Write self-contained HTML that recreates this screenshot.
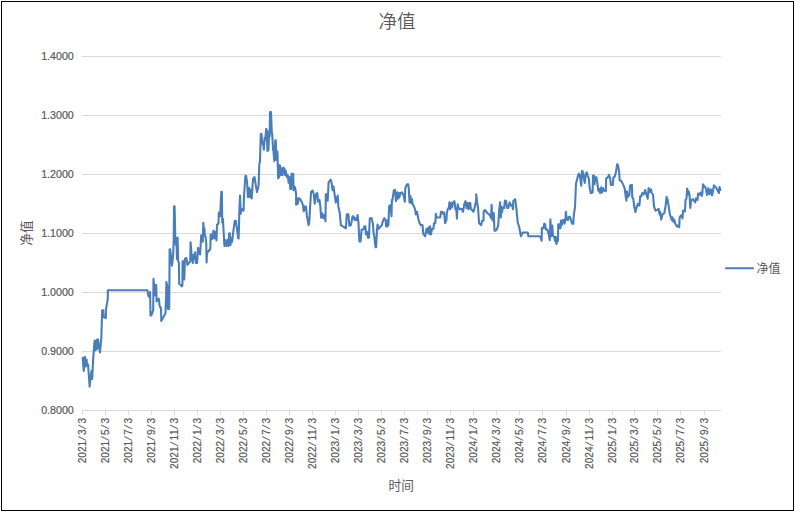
<!DOCTYPE html>
<html lang="zh-CN"><head><meta charset="utf-8"><title>净值</title>
<style>
html,body{margin:0;padding:0;background:#fff;}
body{width:795px;height:512px;overflow:hidden;}
svg{display:block;}
text{font-family:"Liberation Sans","Noto Sans CJK SC",sans-serif;fill:#595959;}
.num{stroke:#595959;stroke-width:0.22px;}
.cjk{font-family:"Liberation Sans","Noto Sans CJK SC",sans-serif;}
</style></head><body>
<svg width="795" height="512" viewBox="0 0 795 512">
<rect x="0" y="0" width="795" height="512" fill="#ffffff"/>
<rect x="1.5" y="1.5" width="792" height="509" fill="none" stroke="#000000" stroke-width="1" shape-rendering="crispEdges"/>
<line x1="82" y1="56.5" x2="721" y2="56.5" stroke="#d9d9d9" stroke-width="1" shape-rendering="crispEdges"/>
<line x1="82" y1="115.5" x2="721" y2="115.5" stroke="#d9d9d9" stroke-width="1" shape-rendering="crispEdges"/>
<line x1="82" y1="174.5" x2="721" y2="174.5" stroke="#d9d9d9" stroke-width="1" shape-rendering="crispEdges"/>
<line x1="82" y1="233.5" x2="721" y2="233.5" stroke="#d9d9d9" stroke-width="1" shape-rendering="crispEdges"/>
<line x1="82" y1="292.5" x2="721" y2="292.5" stroke="#d9d9d9" stroke-width="1" shape-rendering="crispEdges"/>
<line x1="82" y1="351.5" x2="721" y2="351.5" stroke="#d9d9d9" stroke-width="1" shape-rendering="crispEdges"/>
<line x1="82" y1="410.5" x2="721" y2="410.5" stroke="#d9d9d9" stroke-width="1" shape-rendering="crispEdges"/>
<line x1="82.5" y1="410" x2="82.5" y2="415" stroke="#d9d9d9" stroke-width="1" shape-rendering="crispEdges"/>
<line x1="105.5" y1="410" x2="105.5" y2="415" stroke="#d9d9d9" stroke-width="1" shape-rendering="crispEdges"/>
<line x1="128.5" y1="410" x2="128.5" y2="415" stroke="#d9d9d9" stroke-width="1" shape-rendering="crispEdges"/>
<line x1="151.5" y1="410" x2="151.5" y2="415" stroke="#d9d9d9" stroke-width="1" shape-rendering="crispEdges"/>
<line x1="174.5" y1="410" x2="174.5" y2="415" stroke="#d9d9d9" stroke-width="1" shape-rendering="crispEdges"/>
<line x1="197.5" y1="410" x2="197.5" y2="415" stroke="#d9d9d9" stroke-width="1" shape-rendering="crispEdges"/>
<line x1="220.5" y1="410" x2="220.5" y2="415" stroke="#d9d9d9" stroke-width="1" shape-rendering="crispEdges"/>
<line x1="243.5" y1="410" x2="243.5" y2="415" stroke="#d9d9d9" stroke-width="1" shape-rendering="crispEdges"/>
<line x1="266.5" y1="410" x2="266.5" y2="415" stroke="#d9d9d9" stroke-width="1" shape-rendering="crispEdges"/>
<line x1="289.5" y1="410" x2="289.5" y2="415" stroke="#d9d9d9" stroke-width="1" shape-rendering="crispEdges"/>
<line x1="312.5" y1="410" x2="312.5" y2="415" stroke="#d9d9d9" stroke-width="1" shape-rendering="crispEdges"/>
<line x1="335.5" y1="410" x2="335.5" y2="415" stroke="#d9d9d9" stroke-width="1" shape-rendering="crispEdges"/>
<line x1="358.5" y1="410" x2="358.5" y2="415" stroke="#d9d9d9" stroke-width="1" shape-rendering="crispEdges"/>
<line x1="381.5" y1="410" x2="381.5" y2="415" stroke="#d9d9d9" stroke-width="1" shape-rendering="crispEdges"/>
<line x1="404.5" y1="410" x2="404.5" y2="415" stroke="#d9d9d9" stroke-width="1" shape-rendering="crispEdges"/>
<line x1="427.5" y1="410" x2="427.5" y2="415" stroke="#d9d9d9" stroke-width="1" shape-rendering="crispEdges"/>
<line x1="450.5" y1="410" x2="450.5" y2="415" stroke="#d9d9d9" stroke-width="1" shape-rendering="crispEdges"/>
<line x1="473.5" y1="410" x2="473.5" y2="415" stroke="#d9d9d9" stroke-width="1" shape-rendering="crispEdges"/>
<line x1="496.5" y1="410" x2="496.5" y2="415" stroke="#d9d9d9" stroke-width="1" shape-rendering="crispEdges"/>
<line x1="519.5" y1="410" x2="519.5" y2="415" stroke="#d9d9d9" stroke-width="1" shape-rendering="crispEdges"/>
<line x1="542.5" y1="410" x2="542.5" y2="415" stroke="#d9d9d9" stroke-width="1" shape-rendering="crispEdges"/>
<line x1="566.5" y1="410" x2="566.5" y2="415" stroke="#d9d9d9" stroke-width="1" shape-rendering="crispEdges"/>
<line x1="589.5" y1="410" x2="589.5" y2="415" stroke="#d9d9d9" stroke-width="1" shape-rendering="crispEdges"/>
<line x1="612.5" y1="410" x2="612.5" y2="415" stroke="#d9d9d9" stroke-width="1" shape-rendering="crispEdges"/>
<line x1="634.5" y1="410" x2="634.5" y2="415" stroke="#d9d9d9" stroke-width="1" shape-rendering="crispEdges"/>
<line x1="657.5" y1="410" x2="657.5" y2="415" stroke="#d9d9d9" stroke-width="1" shape-rendering="crispEdges"/>
<line x1="680.5" y1="410" x2="680.5" y2="415" stroke="#d9d9d9" stroke-width="1" shape-rendering="crispEdges"/>
<line x1="704.5" y1="410" x2="704.5" y2="415" stroke="#d9d9d9" stroke-width="1" shape-rendering="crispEdges"/>
<text class="num" transform="translate(85.80,417.9) rotate(-90) scale(0.876,1)" font-size="11.5" x="-51.83 -45.43 -39.04 -32.65 -25.97 -19.52 -12.84 -6.39" rotate="0 0 0 0 14 0 14 0">2021/3/3</text>
<text class="num" transform="translate(108.80,417.9) rotate(-90) scale(0.876,1)" font-size="11.5" x="-51.83 -45.43 -39.04 -32.65 -25.97 -19.52 -12.84 -6.39" rotate="0 0 0 0 14 0 14 0">2021/5/3</text>
<text class="num" transform="translate(131.80,417.9) rotate(-90) scale(0.876,1)" font-size="11.5" x="-51.83 -45.43 -39.04 -32.65 -25.97 -19.52 -12.84 -6.39" rotate="0 0 0 0 14 0 14 0">2021/7/3</text>
<text class="num" transform="translate(154.80,417.9) rotate(-90) scale(0.876,1)" font-size="11.5" x="-51.83 -45.43 -39.04 -32.65 -25.97 -19.52 -12.84 -6.39" rotate="0 0 0 0 14 0 14 0">2021/9/3</text>
<text class="num" transform="translate(177.80,417.9) rotate(-90) scale(0.876,1)" font-size="11.5" x="-58.22 -51.83 -45.43 -39.04 -32.36 -25.91 -19.52 -12.84 -6.39" rotate="0 0 0 0 14 0 0 14 0">2021/11/3</text>
<text class="num" transform="translate(200.80,417.9) rotate(-90) scale(0.876,1)" font-size="11.5" x="-51.83 -45.43 -39.04 -32.65 -25.97 -19.52 -12.84 -6.39" rotate="0 0 0 0 14 0 14 0">2022/1/3</text>
<text class="num" transform="translate(223.80,417.9) rotate(-90) scale(0.876,1)" font-size="11.5" x="-51.83 -45.43 -39.04 -32.65 -25.97 -19.52 -12.84 -6.39" rotate="0 0 0 0 14 0 14 0">2022/3/3</text>
<text class="num" transform="translate(246.80,417.9) rotate(-90) scale(0.876,1)" font-size="11.5" x="-51.83 -45.43 -39.04 -32.65 -25.97 -19.52 -12.84 -6.39" rotate="0 0 0 0 14 0 14 0">2022/5/3</text>
<text class="num" transform="translate(269.80,417.9) rotate(-90) scale(0.876,1)" font-size="11.5" x="-51.83 -45.43 -39.04 -32.65 -25.97 -19.52 -12.84 -6.39" rotate="0 0 0 0 14 0 14 0">2022/7/3</text>
<text class="num" transform="translate(292.80,417.9) rotate(-90) scale(0.876,1)" font-size="11.5" x="-51.83 -45.43 -39.04 -32.65 -25.97 -19.52 -12.84 -6.39" rotate="0 0 0 0 14 0 14 0">2022/9/3</text>
<text class="num" transform="translate(315.80,417.9) rotate(-90) scale(0.876,1)" font-size="11.5" x="-58.22 -51.83 -45.43 -39.04 -32.36 -25.91 -19.52 -12.84 -6.39" rotate="0 0 0 0 14 0 0 14 0">2022/11/3</text>
<text class="num" transform="translate(338.80,417.9) rotate(-90) scale(0.876,1)" font-size="11.5" x="-51.83 -45.43 -39.04 -32.65 -25.97 -19.52 -12.84 -6.39" rotate="0 0 0 0 14 0 14 0">2023/1/3</text>
<text class="num" transform="translate(361.80,417.9) rotate(-90) scale(0.876,1)" font-size="11.5" x="-51.83 -45.43 -39.04 -32.65 -25.97 -19.52 -12.84 -6.39" rotate="0 0 0 0 14 0 14 0">2023/3/3</text>
<text class="num" transform="translate(384.80,417.9) rotate(-90) scale(0.876,1)" font-size="11.5" x="-51.83 -45.43 -39.04 -32.65 -25.97 -19.52 -12.84 -6.39" rotate="0 0 0 0 14 0 14 0">2023/5/3</text>
<text class="num" transform="translate(407.80,417.9) rotate(-90) scale(0.876,1)" font-size="11.5" x="-51.83 -45.43 -39.04 -32.65 -25.97 -19.52 -12.84 -6.39" rotate="0 0 0 0 14 0 14 0">2023/7/3</text>
<text class="num" transform="translate(430.80,417.9) rotate(-90) scale(0.876,1)" font-size="11.5" x="-51.83 -45.43 -39.04 -32.65 -25.97 -19.52 -12.84 -6.39" rotate="0 0 0 0 14 0 14 0">2023/9/3</text>
<text class="num" transform="translate(453.80,417.9) rotate(-90) scale(0.876,1)" font-size="11.5" x="-58.22 -51.83 -45.43 -39.04 -32.36 -25.91 -19.52 -12.84 -6.39" rotate="0 0 0 0 14 0 0 14 0">2023/11/3</text>
<text class="num" transform="translate(476.80,417.9) rotate(-90) scale(0.876,1)" font-size="11.5" x="-51.83 -45.43 -39.04 -32.65 -25.97 -19.52 -12.84 -6.39" rotate="0 0 0 0 14 0 14 0">2024/1/3</text>
<text class="num" transform="translate(499.80,417.9) rotate(-90) scale(0.876,1)" font-size="11.5" x="-51.83 -45.43 -39.04 -32.65 -25.97 -19.52 -12.84 -6.39" rotate="0 0 0 0 14 0 14 0">2024/3/3</text>
<text class="num" transform="translate(522.80,417.9) rotate(-90) scale(0.876,1)" font-size="11.5" x="-51.83 -45.43 -39.04 -32.65 -25.97 -19.52 -12.84 -6.39" rotate="0 0 0 0 14 0 14 0">2024/5/3</text>
<text class="num" transform="translate(545.80,417.9) rotate(-90) scale(0.876,1)" font-size="11.5" x="-51.83 -45.43 -39.04 -32.65 -25.97 -19.52 -12.84 -6.39" rotate="0 0 0 0 14 0 14 0">2024/7/3</text>
<text class="num" transform="translate(569.80,417.9) rotate(-90) scale(0.876,1)" font-size="11.5" x="-51.83 -45.43 -39.04 -32.65 -25.97 -19.52 -12.84 -6.39" rotate="0 0 0 0 14 0 14 0">2024/9/3</text>
<text class="num" transform="translate(592.80,417.9) rotate(-90) scale(0.876,1)" font-size="11.5" x="-58.22 -51.83 -45.43 -39.04 -32.36 -25.91 -19.52 -12.84 -6.39" rotate="0 0 0 0 14 0 0 14 0">2024/11/3</text>
<text class="num" transform="translate(615.80,417.9) rotate(-90) scale(0.876,1)" font-size="11.5" x="-51.83 -45.43 -39.04 -32.65 -25.97 -19.52 -12.84 -6.39" rotate="0 0 0 0 14 0 14 0">2025/1/3</text>
<text class="num" transform="translate(637.80,417.9) rotate(-90) scale(0.876,1)" font-size="11.5" x="-51.83 -45.43 -39.04 -32.65 -25.97 -19.52 -12.84 -6.39" rotate="0 0 0 0 14 0 14 0">2025/3/3</text>
<text class="num" transform="translate(660.80,417.9) rotate(-90) scale(0.876,1)" font-size="11.5" x="-51.83 -45.43 -39.04 -32.65 -25.97 -19.52 -12.84 -6.39" rotate="0 0 0 0 14 0 14 0">2025/5/3</text>
<text class="num" transform="translate(683.80,417.9) rotate(-90) scale(0.876,1)" font-size="11.5" x="-51.83 -45.43 -39.04 -32.65 -25.97 -19.52 -12.84 -6.39" rotate="0 0 0 0 14 0 14 0">2025/7/3</text>
<text class="num" transform="translate(707.80,417.9) rotate(-90) scale(0.876,1)" font-size="11.5" x="-51.83 -45.43 -39.04 -32.65 -25.97 -19.52 -12.84 -6.39" rotate="0 0 0 0 14 0 14 0">2025/9/3</text>
<text class="num" x="73.8" y="59.7" text-anchor="end" font-size="11.5" textLength="32.6" lengthAdjust="spacingAndGlyphs">1.4000</text>
<text class="num" x="73.8" y="118.7" text-anchor="end" font-size="11.5" textLength="32.6" lengthAdjust="spacingAndGlyphs">1.3000</text>
<text class="num" x="73.8" y="177.7" text-anchor="end" font-size="11.5" textLength="32.6" lengthAdjust="spacingAndGlyphs">1.2000</text>
<text class="num" x="73.8" y="236.7" text-anchor="end" font-size="11.5" textLength="32.6" lengthAdjust="spacingAndGlyphs">1.1000</text>
<text class="num" x="73.8" y="295.7" text-anchor="end" font-size="11.5" textLength="32.6" lengthAdjust="spacingAndGlyphs">1.0000</text>
<text class="num" x="73.8" y="354.7" text-anchor="end" font-size="11.5" textLength="32.6" lengthAdjust="spacingAndGlyphs">0.9000</text>
<text class="num" x="73.8" y="413.7" text-anchor="end" font-size="11.5" textLength="32.6" lengthAdjust="spacingAndGlyphs">0.8000</text>
<text class="cjk" x="397" y="27.5" text-anchor="middle" font-size="18.6" font-weight="350">净值</text>
<text class="cjk" x="401.2" y="489.6" text-anchor="middle" font-size="12.7">时间</text>
<text class="cjk" transform="translate(31.3,233.1) rotate(-90)" text-anchor="middle" font-size="12.7">净值</text>
<line x1="726" y1="268.3" x2="753" y2="268.3" stroke="#4a7ebb" stroke-width="2" stroke-linecap="round"/>
<text class="cjk" x="756.5" y="272.6" font-size="12">净值</text>
<polyline fill="none" stroke="#4a7ebb" stroke-width="2.1" stroke-linejoin="round" stroke-linecap="round" points="82.7,357.7 83.7,370.9 84.9,356.7 85.8,366.5 86.6,359.6 87.1,365.8 88.1,364.6 89.6,386.6 91.5,370.9 92.2,379 93.1,360.2 94.6,340.7 95.6,350.1 96.5,340 97.1,348.9 97.9,339.4 98.8,345.1 100,352.4 101.3,338 102.2,310.3 103.2,310.3 103.8,317.2 105.9,318 105.9,309.6 107.8,298.9 107.8,290.2 147.4,290.2 148.4,295.8 149.4,297 150.1,292 150.5,315.5 151.3,315.5 153.2,310.3 153.5,278.8 155,295.2 155.4,285.1 156.2,285.1 156.6,301.4 157.9,298.9 158.9,298.9 159.5,305.2 160.4,307.7 161,307.7 161.3,320.9 165.4,313.4 166,300.2 166.4,282 167.3,286.4 167.9,309 169.2,309 169.5,270 169.6,249.2 170.1,249.2 170.7,253.6 171.9,265.6 172.6,261.2 173.2,254.2 173.8,236 174,206.2 174.6,206.2 175.1,228.8 175.3,238.9 175.7,244.8 176.4,238.5 177,259.3 177.6,237.6 178.2,261.2 178.9,263 179.2,283.8 180.8,285 181.6,286.3 182.4,285.7 182.6,261.2 183.6,261.2 184.3,279.4 184.9,258.6 186.4,258 187.4,264.9 188.9,263 190.2,261.2 190.6,242.3 191.4,252.4 192.7,263 193.7,254.9 194.6,258.6 195.2,252.4 195.8,263 197.1,263 198.1,247.9 199,252.4 200.1,254.3 201.2,235.4 202.0,236 202.8,241.6 203.3,222.8 203.7,227.5 204.4,228.2 204.8,235 205.5,236.5 206.2,242 206.6,262.4 207,253 210.3,249 210.7,234.5 211.6,234.5 212.2,238.9 213.5,230.5 214.4,238.5 215.4,232 216.5,240.4 217.0,224.6 218.5,223.8 218.8,212.5 219.7,212.5 220.1,216.3 221.3,191.7 221.9,191.7 222.2,222.5 222.9,218.8 224.4,246 225.4,240 226.7,246 227.9,239.5 228.5,246 229.2,233.2 229.8,233.2 230.4,245 231.4,238.3 232,242 233,233.9 234.8,220.7 235.8,220.7 237,228.8 238.2,238.3 238.6,238.5 239,226.3 239.2,216.3 240,195.5 240.8,213.7 241.5,208.7 243.6,210.6 244,196.1 245.4,175.8 246.1,175.8 247.1,182.7 247.9,197.2 249,187.7 249.8,197.2 250.8,189.6 251.7,198.4 253,178.9 254.5,177 255.5,183.3 257,192.1 258.6,185.8 259.3,163.8 259.9,162.6 260.8,134 261.5,134 262.4,144 262.8,141.5 263.9,149.7 264.7,137.7 265.2,140 266.2,128.9 266.8,130 267.4,150.9 268.4,150.3 269.1,131.4 269.7,136.5 270,112 271,112 271.8,132.7 272.2,134 273.1,150.3 273.4,150.3 274.3,161 275.3,140.2 275.8,140.2 276.4,160 276.9,151 277.5,152.5 278.1,178.3 279,177 279.4,165.1 280,165.7 280.7,175.2 281.5,168.2 282.5,175.2 283.5,167.6 284.4,168.9 285.1,175.2 285.7,170.8 286.9,177 287.8,175.2 288.6,182.7 289.5,177 290.3,189 291.3,189 291.6,173.9 293.2,173.9 293.6,190.3 294.5,186.5 295.1,187.7 296.1,194 296.1,204.7 297,198.4 297.6,204.1 298.6,198.4 299.5,198.4 300.8,200.3 302.7,204.1 303.8,211.3 304.8,206.2 306,206.9 306.9,215.7 308.6,225.1 309.4,220.7 310.1,206.9 311.1,191.8 312.6,190.5 313.8,194.3 314.8,203.7 316.1,194.3 317.2,193 318.2,201.8 319.5,199.9 320.4,206.9 321.1,217.6 322.4,213.2 323.3,218.2 324.5,215 325.5,221.3 325.8,194.3 326.7,194.3 327.7,200.6 328.3,189.3 328.5,182.7 330.6,179.6 331.6,182.7 332.6,190.3 333.5,186.5 334.6,194.3 335.8,202.5 336.9,198.1 337.7,195.5 338.4,206.9 339.6,211.9 340.9,225.1 342.8,226.4 345.9,228.3 346.8,214.4 348.4,214.4 349.3,225.7 350.9,225.1 352.6,216.3 353.5,216.3 354.7,220.1 356,218.2 356.6,220.1 357.6,215 358.5,223.2 359.4,241.5 360.6,241.5 361.6,229.5 363.5,229.5 364.4,226.4 365.4,226.4 366,234.5 367.3,232 367.9,237.7 368.9,237.7 369.8,218.2 371.7,218.2 373,224.5 373.6,233.3 374.2,235.8 375.5,247.1 376.1,247.1 377,229.5 377.6,224.5 378.6,228.9 381.8,225.1 383,220.7 384.3,218.2 385.5,220.1 386.2,226.4 387.4,226.4 387.8,220.1 388.4,225.1 389.1,206.2 390.6,205 391.5,216.3 391.9,199.9 392.5,199.9 393.8,190.5 395,189.8 396,201.2 397.3,192.4 397.9,198.6 398.6,193 399.4,197.4 400.3,193 402,192.4 403.6,195.5 404.8,201.8 405.3,187.9 407,184.2 408.2,184.2 408.9,189.8 409.5,202.4 410.5,196.1 411.1,203 412,199.3 412.6,204.3 413.9,206.2 415.2,210 415.8,214.4 417,211.8 418.3,218.8 419.6,223.2 420.8,225.1 422.5,225.1 423.3,233.9 425.2,236.4 426.5,228.8 427.4,232.6 428.4,227.6 429.2,233.9 430,226.3 430.9,234.5 432.1,228.8 433.4,228.8 434,223.2 435.3,223.2 435.9,213.7 436.5,217.5 440.3,217.5 440.9,211.8 442.2,211.8 442.8,213.7 444.1,212.5 445.1,223.2 446.4,220 446.9,212.5 447.9,208.7 448.9,208.1 449.4,202.4 450.1,209.3 451,203 451.9,207.4 452.9,203 454.4,201.2 455.4,209.3 456.3,208.1 456.9,218.8 457.7,204.3 458.6,208.1 459.8,209.3 461.7,208.7 463,211.8 464.2,204.3 465.5,201.2 466.5,208.1 467.4,203 468.6,209.3 469.2,203 470.3,203 470.8,208.7 473.6,211.8 474.9,206.2 476.2,200.5 476.2,194.2 477,201.2 478.1,208.7 479.1,223.2 481.2,225.1 482.1,220.7 483.5,220.7 483.7,211.2 485,210 486.9,212.5 490.1,215.6 491.1,218.1 491.6,204.9 492.3,219.3 493.2,220.6 493.8,213 494.5,230.7 495.7,230.7 497,228.8 498.2,225.6 499.1,211.2 500.1,202.4 500.8,217.4 501.4,206.8 502,212.4 502.9,207.4 504.2,208 504.9,200.5 506.2,201.1 507,208 508.3,208 509.6,202.4 510.8,205.5 512.1,204.9 513,209.3 513.3,201.1 515.2,199.2 516.5,209.3 517.7,222.5 519,226.3 520,231.3 520.9,236.3 522.8,232.5 527.8,232.5 528.4,236.3 539.1,236.3 540.4,236.9 541.6,240.7 541.9,228.1 543.5,228.1 544.2,223.7 545.2,224.4 545.7,229.4 547.3,229.4 548.6,233.8 549.8,240.1 550.4,219.3 551.1,236.3 552.3,225.6 553,235.7 554.2,236.9 555.2,241.3 555.8,236.9 556.4,243.9 558,240.1 558.2,224.4 559.2,224.4 559.6,228.1 560.5,228.1 560.9,220.6 561.8,225 562.8,220 564,220 564.5,223.7 565.3,220.6 565.9,211.8 566.8,219.3 568.1,220 568.9,216.8 569.9,216.8 571.2,220.6 572.1,223.7 573.3,223.7 573.7,216.2 575,207 576,183.5 577.6,177.4 578.8,173.6 579.8,175.5 581.3,185.6 581.9,171.1 582.6,171.1 583.8,178 584.8,183 585.7,173.6 587,172.4 587.6,176.1 588.9,178.6 589.5,186.8 590.8,193.1 592.6,192.5 593,175.5 593.9,175.5 594.5,184.3 595.2,177.4 596.4,177.4 597,180.5 598.3,190.6 598.9,188.7 600.2,193.1 601.2,187.4 602.1,192.5 603,188.1 604,190.6 605.8,191.2 606.2,178.6 607.7,177.4 609,174.9 610,178 610.9,184.9 612.8,184.9 613.4,177.4 614.7,176.8 615.9,172.4 617.2,164.2 617.8,164.8 619.1,171.1 619.7,180.5 620.9,180.5 622.8,183.7 624.7,188.7 625.3,193.7 626.4,200.7 626.9,191.2 627.9,196.9 629.4,195 630.1,185.6 631.9,184.9 632.3,197.5 633.3,198.8 634.4,207.6 635.4,212 636.7,206.9 637.9,203.8 639.4,205.7 640.2,196.3 641.1,196.3 642.3,193.1 643.6,194.4 645.2,190 646.1,193.7 647.7,198.8 648.6,188.1 649.9,191.8 650.9,189.3 651.8,193.1 653,194.4 654,206.3 655.5,210.7 656.8,210.1 658.7,208.8 659.6,214.5 660.3,212 661.2,219.5 662.5,214.5 664.3,213.2 665.6,205.7 666.6,196.9 667.5,199.4 668.7,206.3 669.9,214.7 671.2,217.8 671.8,220.3 672.5,217.2 673.3,221.6 674.2,219.7 675.2,223.5 677.1,226.6 678.4,225.3 679.2,227.2 679.6,217.8 680.5,215.9 681.5,215.3 682.5,218.4 683,210.9 684.3,210.3 685,211.5 685.5,200.2 686.5,198.3 687.2,188.5 687.9,194.5 688.8,191.6 689.6,195.5 690.3,208 691.1,200.1 692.9,199.2 695.2,202.3 696.1,198.2 697.6,199.9 698,193.5 699.3,194.8 700.5,192.6 701.8,196 702.4,192.6 703,184.4 704.6,186.9 705.6,187.5 707.1,195.1 708.4,188.2 709.6,194.2 710.9,189.4 712,195.4 713.1,190.7 713.9,185.3 716.3,187.9 717.6,190.5 718.9,193 719.5,187 720.4,190"/>
</svg>
</body></html>
